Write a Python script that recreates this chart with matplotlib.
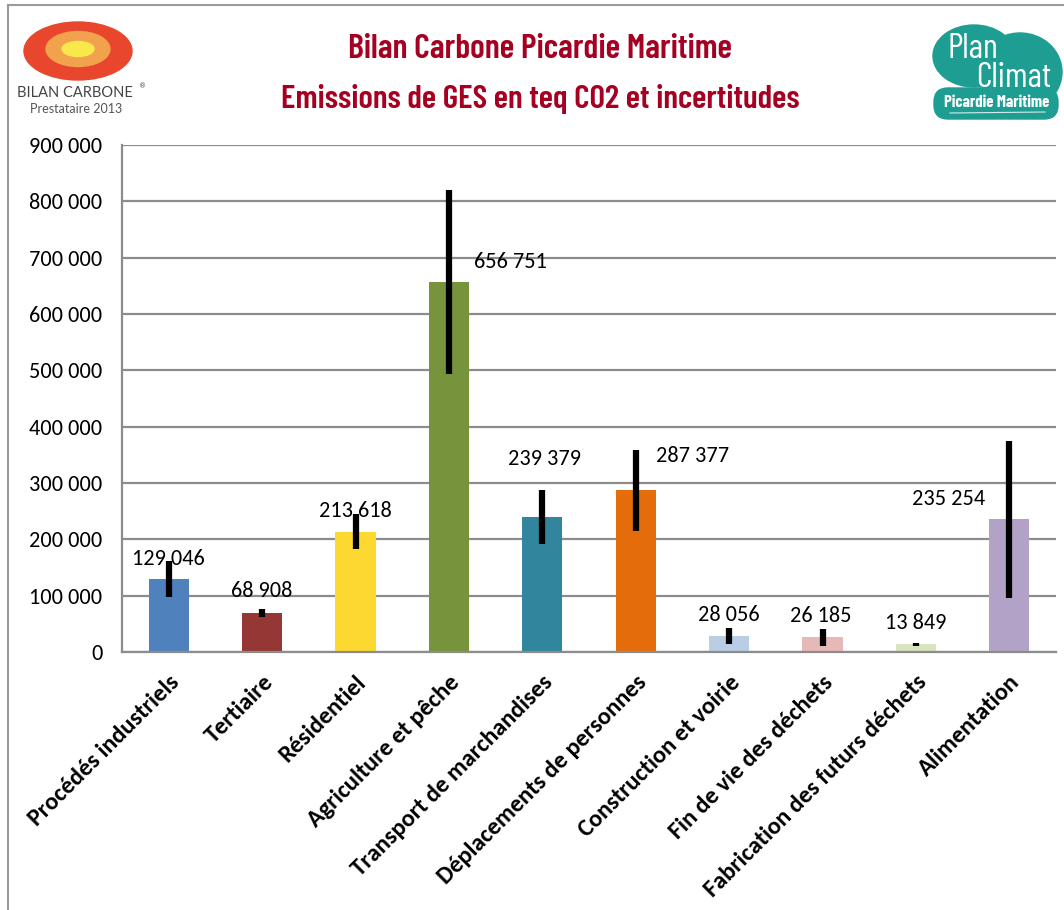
import matplotlib
matplotlib.use("Agg")
import matplotlib.pyplot as plt
from matplotlib.patches import Ellipse, FancyBboxPatch
from matplotlib.lines import Line2D

# Emissions per sector (teq CO2) and their uncertainty half-widths
categories = [
    "Procédés industriels", "Tertiaire", "Résidentiel", "Agriculture et pêche",
    "Transport de marchandises", "Déplacements de personnes",
    "Construction et voirie", "Fin de vie des déchets",
    "Fabrication des futurs déchets", "Alimentation",
]
emissions = [129046, 68908, 213618, 656751, 239379, 287377, 28056, 26185, 13849, 235254]
uncertainty = [32000, 7000, 31000, 164000, 48000, 72000, 14000, 15000, 2800, 140000]
bar_colors = ["#4F81BD", "#953735", "#FCD831", "#77933C", "#31859C", "#E46C0A",
              "#B9CDE5", "#E6B9B8", "#D7E4BD", "#B3A2C7"]
# where each value label sits relative to its bar top (pixels: dx, dy)
label_offsets = [(0, 20), (0, 22), (0, 21), (62, 20), (2, 58),
                 (57, 34), (0, 21), (-2, 21), (0, 21), (-61, 20)]
yticks = list(range(0, 900001, 100000))

TITLE_RED = "#A50021"
GRID = "#8C8C8C"
BODY_FONT = ["Carlito", "Lato", "DejaVu Sans"]
COND_FONT = ["Barlow Condensed", "Saira Condensed", "Liberation Sans Narrow", "DejaVu Sans"]


def fmt_space(v):
    return f"{v:,}".replace(",", " ")


fig = plt.figure(figsize=(10.64, 9.10), dpi=100)
ax = fig.add_axes([122 / 1064, 1 - 652 / 910, (1056 - 122) / 1064, (652 - 145) / 910])

x = list(range(len(categories)))
ax.bar(x, emissions, width=0.43, color=bar_colors, zorder=2)
ax.errorbar(x, emissions, yerr=uncertainty, fmt="none", ecolor="black",
            elinewidth=4.5, capsize=0, zorder=4)

for xi, v, (dx, dy) in zip(x, emissions, label_offsets):
    ax.annotate(fmt_space(v), (xi, v), xytext=(dx * 0.72, dy * 0.72),
                textcoords="offset points", ha="center", va="center",
                fontsize=16, family=BODY_FONT, color="black", zorder=3)

ax.set_xlim(-0.5, len(categories) - 0.5)
ax.set_ylim(0, 900000)
ax.set_yticks(yticks)
ax.set_yticklabels([fmt_space(t) for t in yticks], family=BODY_FONT, fontsize=16)
ax.set_xticks(x)
ax.set_xticklabels(categories, rotation=45, ha="right", rotation_mode="anchor",
                   family=BODY_FONT, fontweight="bold", fontsize=17.5)
ax.tick_params(axis="both", length=0)
ax.tick_params(axis="y", pad=14)
ax.tick_params(axis="x", pad=14)

ax.yaxis.grid(True, color=GRID, linewidth=1.6, zorder=0)
ax.set_axisbelow(True)
for side in ("top", "right"):
    ax.spines[side].set_visible(False)
for side in ("left", "bottom"):
    ax.spines[side].set_color(GRID)
    ax.spines[side].set_linewidth(1.6)

# outer frame (top and left edges only)
fig.add_artist(Line2D([8 / 1064, 1], [1 - 5 / 910, 1 - 5 / 910], color="#9A9A9A", lw=1.5))
fig.add_artist(Line2D([8 / 1064, 8 / 1064], [0, 1 - 5 / 910], color="#9A9A9A", lw=1.5))

# title
fig.text(540 / 1064, 1 - 49 / 910, "Bilan Carbone Picardie Maritime",
         ha="center", va="center", color=TITLE_RED, fontsize=24.5,
         family=COND_FONT, fontweight="semibold")
fig.text(540 / 1064, 1 - 99 / 910, "Emissions de GES en teq CO2 et incertitudes",
         ha="center", va="center", color=TITLE_RED, fontsize=24,
         family=COND_FONT, fontweight="semibold")

# left logo: concentric ellipses with caption
logo = fig.add_axes([0, 1 - 130 / 910, 150 / 1064, 125 / 910])
logo.set_xlim(0, 150)
logo.set_ylim(130, 5)
logo.axis("off")
logo.add_patch(Ellipse((78, 51), 108, 58, color="#E8472E"))
logo.add_patch(Ellipse((78, 49), 64, 35, color="#F2A24C"))
logo.add_patch(Ellipse((78, 49), 32, 15, color="#F8E84C"))
logo.text(75, 93, "BILAN CARBONE", ha="center", va="center", fontsize=10.5,
          family=["Lato", "DejaVu Sans"], color="#444444")
logo.text(143, 86, "®", ha="center", va="center", fontsize=5, color="#444444")
logo.text(76, 109, "Prestataire 2013", ha="center", va="center", fontsize=9,
          family=["Lato", "DejaVu Sans"], color="#555555")

# right logo: teal blob with white lettering
blob = fig.add_axes([880 / 1064, 1 - 130 / 910, 184 / 1064, 125 / 910])
blob.set_xlim(880, 1064)
blob.set_ylim(130, 5)
blob.axis("off")
teal = "#1E9E92"
blob.add_patch(Ellipse((974, 56), 82, 62, color=teal))
blob.add_patch(Ellipse((1020, 72), 84, 78, color=teal))
blob.add_patch(FancyBboxPatch((934, 88), 124, 31, boxstyle="round,pad=0,rounding_size=14",
                              color=teal))
blob.text(947, 49, "Plan", ha="left", va="center", color="white", fontsize=25,
          family=COND_FONT)
blob.text(1051, 78, "Climat", ha="right", va="center", color="white", fontsize=25,
          family=COND_FONT)
blob.text(997, 103, "Picardie Maritime", ha="center", va="center", color="white",
          fontsize=12, family=COND_FONT, fontweight="bold")
blob.add_line(Line2D([950, 1045], [113, 112], color="white", lw=0.8, alpha=0.8))

fig.savefig("out.png", dpi=100)
